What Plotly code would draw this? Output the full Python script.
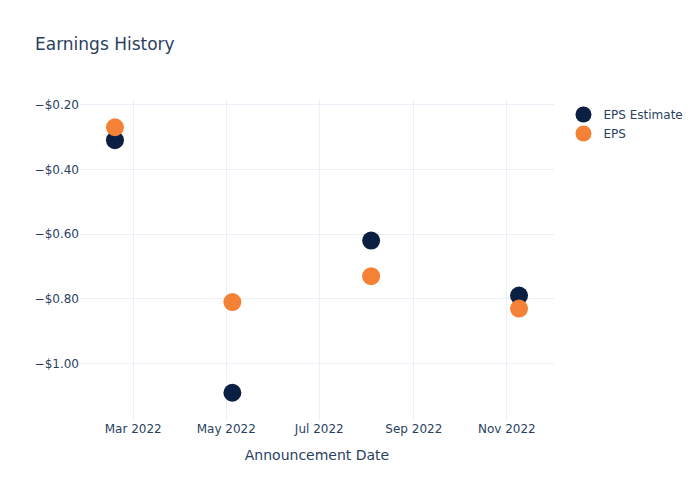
import plotly.graph_objects as go

dates = ["2022-02-17", "2022-05-05", "2022-08-04", "2022-11-09"]
eps_estimate = [-0.31, -1.09, -0.62, -0.79]
eps_actual = [-0.27, -0.81, -0.73, -0.83]

fig = go.Figure()
fig.add_trace(go.Scatter(x=dates, y=eps_estimate, mode="markers", name="EPS Estimate",
                         marker=dict(color="#0b1f43", size=18)))
fig.add_trace(go.Scatter(x=dates, y=eps_actual, mode="markers", name="EPS",
                         marker=dict(color="#f58137", size=18)))
fig.update_layout(
    template="plotly_white",
    width=700, height=500,
    font=dict(family="DejaVu Sans"),
    title=dict(text="Earnings History"),
    xaxis=dict(title=dict(text="Announcement Date")),
    yaxis=dict(tickformat="$.2f"),
)
fig.write_html("out.html", config={"displayModeBar": False},
               post_script="document.body.style.margin='0';")
